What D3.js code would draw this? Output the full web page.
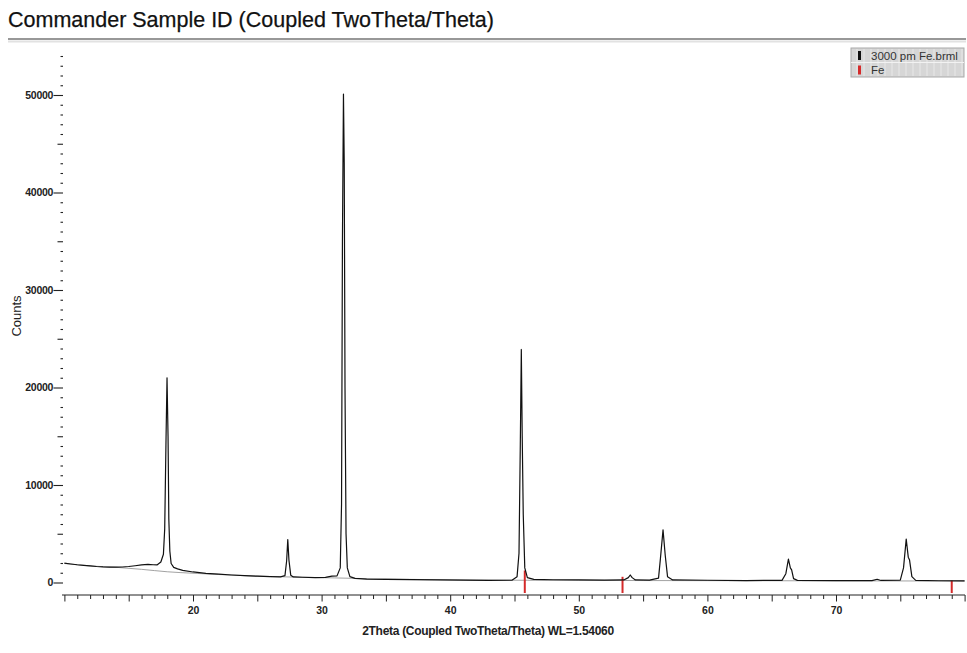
<!DOCTYPE html>
<html lang="en">
<head>
<meta charset="utf-8">
<title>Commander Sample ID</title>
<script src="https://d3js.org/d3.v7.min.js"></script>
<style>
  body { margin: 0; background: white; }
  svg { font-family: "Liberation Sans", Arial, sans-serif; display: block; }
  .tick line { stroke: #222; }
</style>
</head>
<body>
<svg id="chart" width="967" height="653"></svg>
<script>
const scanAngle = [10.0,10.5,11.0,11.5,12.0,12.5,13.0,13.5,14.0,14.5,15.0,15.5,16.0,16.5,16.9,17.2,17.5,17.7,17.8,17.9,17.98,18.06,18.12,18.2,18.3,18.5,18.8,19.2,20.0,21.0,22.0,23.0,24.0,25.0,26.0,26.8,27.15,27.28,27.37,27.46,27.6,27.8,28.5,29.5,30.3,30.8,31.2,31.45,31.55,31.62,31.7,31.76,31.82,31.9,32.0,32.2,32.6,33.5,35.0,37.0,39.0,41.0,43.0,44.8,45.2,45.35,45.45,45.53,45.6,45.68,45.8,46.0,46.5,48.0,50.0,52.0,53.5,53.85,54.0,54.15,54.4,55.5,56.2,56.35,56.55,56.72,56.9,57.3,60.0,63.0,65.8,66.1,66.3,66.45,66.55,66.7,67.0,70.0,72.8,73.2,73.5,75.0,75.25,75.46,75.62,75.72,75.9,76.2,78.0,80.0];
const scanCounts = [1980,1900,1820,1760,1700,1640,1600,1580,1570,1590,1640,1720,1800,1850,1820,1800,2100,2900,5500,14500,21000,15000,6500,3200,1950,1550,1400,1250,1080,940,850,770,700,650,610,580,700,2200,4400,2300,750,570,540,510,520,650,680,1500,8000,35000,50100,43000,20000,5000,1500,600,420,350,320,290,260,240,220,230,600,3000,14000,23900,15000,7000,1500,500,320,280,260,240,260,500,770,500,260,250,450,2500,5400,2800,600,260,230,200,220,900,2400,1500,1300,400,220,190,200,330,210,250,1500,4450,2600,2300,600,220,180,160];

// fitted background curve
const bgAngle = [10,12,14,16,18,20,22,25,28,31,34,38,42,46,50,55,60,65,70,75,80];
const bgCounts = [1950,1700,1560,1350,1100,950,820,650,550,470,380,300,250,230,220,200,190,180,170,160,150];

// Fe reference sticks
const feAngle = [45.8, 53.4, 79.0];
const feIntensity = [100, 72, 55];

const legendNames = ["3000 pm Fe.brml", "Fe"];
const legendColors = ["#111", "#d42a2a"];

const svg = d3.select("#chart");

// title and rule
svg.append("text")
   .attr("x", 8).attr("y", 27)
   .attr("font-size", 21.5)
   .attr("fill", "#111")
   .attr("stroke", "#111").attr("stroke-width", 0.25)
   .text("Commander Sample ID (Coupled TwoTheta/Theta)");
svg.append("line")
   .attr("x1", 8).attr("x2", 966).attr("y1", 39).attr("y2", 39)
   .attr("stroke", "#333").attr("stroke-width", 1.2);
svg.append("line")
   .attr("x1", 8).attr("x2", 966).attr("y1", 41.5).attr("y2", 41.5)
   .attr("stroke", "#e2e2e2").attr("stroke-width", 2);

const x = d3.scaleLinear().domain([10, 80]).range([64.4, 964.6]);
const y = d3.scaleLinear().domain([0, 50000]).range([582.5, 95]);

// y axis: ticks only, every 1000
const yAxis = d3.axisLeft(y)
   .tickValues(d3.range(0, 55000, 1000))
   .tickFormat(d => d % 10000 === 0 ? d : "")
   .tickSize(3);
const gy = svg.append("g").attr("transform", "translate(63,0)").call(yAxis);
gy.select(".domain").remove();
gy.selectAll(".tick line")
   .attr("x2", d => d % 10000 === 0 ? -9.5 : (d % 5000 === 0 ? -5.5 : -2.5))
   .attr("stroke-width", 1.1);
gy.selectAll(".tick text")
   .attr("x", -10)
   .attr("font-size", 10.5)
   .attr("font-weight", "bold")
   .attr("letter-spacing", -0.3)
   .attr("fill", "#222");

// x axis
const xAxis = d3.axisBottom(x)
   .tickValues(d3.range(10, 81, 1))
   .tickFormat(d => (d % 10 === 0 && d > 10 && d < 80) ? d : "")
   .tickSizeOuter(0)
   .tickSize(4);
const gx = svg.append("g").attr("transform", "translate(0,595)").call(xAxis);
gx.select(".domain").attr("stroke", "#222").attr("d", "M62,0H965");
gx.selectAll(".tick line")
   .attr("y2", d => d % 5 === 0 ? 6.5 : 4);
gx.selectAll(".tick text")
   .attr("y", 12)
   .attr("font-size", 10.5)
   .attr("font-weight", "bold")
   .attr("fill", "#222");

// axis titles
svg.append("text")
   .attr("transform", "translate(21,316) rotate(-90)")
   .attr("text-anchor", "middle")
   .attr("font-size", 13)
   .attr("fill", "#222")
   .text("Counts");
svg.append("text")
   .attr("x", 488).attr("y", 635)
   .attr("text-anchor", "middle")
   .attr("font-size", 12)
   .attr("font-weight", "bold")
   .attr("letter-spacing", -0.3)
   .attr("fill", "#222")
   .text("2Theta (Coupled TwoTheta/Theta) WL=1.54060");

// background curve
const bg = bgAngle.map((a, i) => [a, bgCounts[i]]);
svg.append("path")
   .datum(bg)
   .attr("fill", "none")
   .attr("stroke", "#8a8a8a")
   .attr("stroke-width", 0.8)
   .attr("d", d3.line().x(d => x(d[0])).y(d => y(d[1])).curve(d3.curveMonotoneX));

// Fe sticks
const stick = d3.scaleLinear().domain([0, 100]).range([593, 570.5]);
svg.selectAll("line.fe").data(feAngle)
   .join("line")
   .attr("class", "fe")
   .attr("x1", d => x(d)).attr("x2", d => x(d))
   .attr("y1", 593)
   .attr("y2", (d, i) => stick(feIntensity[i]))
   .attr("stroke", "#d42a2a")
   .attr("stroke-width", 2);

// measured scan
const scan = scanAngle.map((a, i) => [a, scanCounts[i]]);
svg.append("path")
   .datum(scan)
   .attr("fill", "none")
   .attr("stroke", "#111")
   .attr("stroke-width", 1.2)
   .attr("stroke-linejoin", "round")
   .attr("d", d3.line().x(d => x(d[0])).y(d => y(d[1])));

// legend
const lg = svg.append("g").attr("transform", "translate(851,48)");
lg.append("rect")
   .attr("width", 113).attr("height", 29)
   .attr("fill", "#d6d6d6").attr("stroke", "#aaa");
lg.selectAll("line.grid").data(d3.range(6, 113, 7))
   .join("line")
   .attr("class", "grid")
   .attr("x1", d => d).attr("x2", d => d)
   .attr("y1", 1).attr("y2", 28)
   .attr("stroke", "#eeeeee").attr("stroke-width", 0.8);
lg.append("line")
   .attr("x1", 0).attr("x2", 113).attr("y1", 14.5).attr("y2", 14.5)
   .attr("stroke", "#f2f2f2");
lg.selectAll("rect.mark").data(legendColors)
   .join("rect")
   .attr("class", "mark")
   .attr("x", 7).attr("y", (d, i) => 3 + i * 14.5)
   .attr("width", 3).attr("height", 9)
   .attr("fill", d => d);
lg.selectAll("text.name").data(legendNames)
   .join("text")
   .attr("class", "name")
   .attr("x", 20).attr("y", (d, i) => 11.5 + i * 14.5)
   .attr("font-size", 11.5)
   .attr("fill", "#333")
   .text(d => d);
</script>
</body>
</html>
